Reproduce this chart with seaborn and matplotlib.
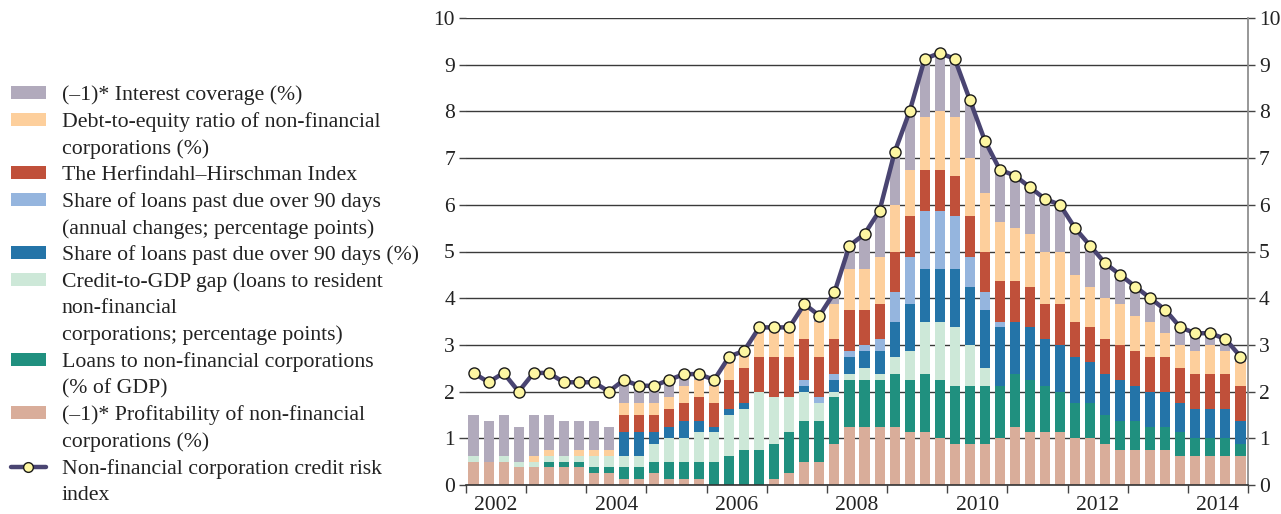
import matplotlib
matplotlib.use("Agg")
import matplotlib.pyplot as plt
from matplotlib.patches import Patch
from matplotlib.lines import Line2D
import numpy as np
import pandas as pd
import seaborn as sns

sns.set_theme(style="white")
plt.rcParams['font.family'] = ['Liberation Serif', 'DejaVu Serif']

# quarters 2002Q1 .. 2014Q4
quarters = [f"{y}Q{q}" for y in range(2002, 2015) for q in range(1, 5)]

# stacked components, bottom -> top
profitability = [.5, .5, .5, .375, .375, .375, .375, .375, .25, .25, .125, .125,
                 .25, .125, .125, .125, 0, 0, 0, 0, .125, .25, .5, .5,
                 .875, 1.25, 1.25, 1.25, 1.25, 1.125, 1.125, 1.0, .875, .875, .875, 1.0,
                 1.25, 1.125, 1.125, 1.125, 1.0, 1.0, .875, .75, .75, .75, .75, .625,
                 .625, .625, .625, .625]
loans_gdp = [0, 0, 0, 0, 0, .125, .125, .125, .125, .125, .25, .25,
             .25, .375, .375, .375, .5, .625, .75, .75, .75, .875, .875, .875,
             1.0, 1.0, 1.0, 1.0, 1.125, 1.125, 1.25, 1.25, 1.25, 1.25, 1.25, 1.125,
             1.125, 1.125, 1.0, .875, .75, .75, .625, .625, .625, .5, .5, .5,
             .375, .375, .375, .25]
credit_gap = [.125, 0, .125, .125, .125, .125, .125, .125, .25, .25, .25, .25,
              .375, .5, .5, .625, .625, .875, .875, 1.25, 1.0, .75, .625, .375,
              .125, .125, .25, .125, .375, .625, 1.125, 1.25, 1.25, .875, .375, 0,
              0, 0, 0, 0, 0, 0, 0, 0, 0, 0, 0, 0,
              0, 0, 0, 0]
npl_share = [0, 0, 0, 0, 0, 0, 0, 0, 0, 0, .5, .5,
             .25, .25, .375, .25, .125, .125, .125, 0, 0, 0, .125, 0,
             .25, .375, .375, .5, .75, 1.0, 1.125, 1.125, 1.25, 1.25, 1.25, 1.25,
             1.125, 1.125, 1.0, 1.0, 1.0, .875, .875, .875, .75, .75, .75, .625,
             .625, .625, .625, .5]
npl_change = [0, 0, 0, 0, 0, 0, 0, 0, 0, 0, 0, 0,
              0, 0, 0, 0, 0, 0, 0, 0, 0, 0, .125, .125,
              .125, .125, .125, .25, .625, 1.0, 1.25, 1.25, 1.125, .625, .375, .125,
              0, 0, 0, 0, 0, 0, 0, 0, 0, 0, 0, 0,
              0, 0, 0, 0]
hhi = [0, 0, 0, 0, 0, 0, 0, 0, 0, 0, .375, .375,
       .375, .375, .375, .5, .5, .625, .75, .75, .875, .875, .875, .875,
       .75, .875, .75, .75, .875, .875, .875, .875, .875, .875, .875, .875,
       .875, .875, .75, .875, .75, .75, .75, .75, .75, .75, .75, .75,
       .75, .75, .75, .75]
debt_equity = [0, 0, 0, 0, .125, .125, 0, .125, .125, .125, .25, .25,
               .25, .25, .375, .375, .375, .375, .375, .625, .625, .625, .75, .75,
               .75, .875, .875, 1.0, 1.0, 1.0, 1.125, 1.25, 1.25, 1.25, 1.25, 1.25,
               1.125, 1.125, 1.125, 1.125, 1.0, .875, .875, .875, .75, .75, .5, .5,
               .5, .625, .5, .5]
interest_cov = [.875, .875, .875, .75, .875, .75, .75, .625, .625, .5, .5, .375,
                .375, .375, .25, .125, .125, .125, 0, 0, 0, 0, 0, .125,
                .25, .5, .75, 1.0, 1.125, 1.25, 1.25, 1.25, 1.25, 1.25, 1.125, 1.125,
                1.125, 1.0, 1.125, 1.0, 1.0, .875, .75, .625, .625, .5, .5, .375,
                .375, .25, .25, .125]

# credit risk index (line)
risk_index = [2.4, 2.2, 2.4, 2.0, 2.4, 2.4, 2.2, 2.2, 2.2, 2.0, 2.25, 2.125,
              2.125, 2.25, 2.375, 2.375, 2.25, 2.75, 2.875, 3.375, 3.375, 3.375, 3.875, 3.625,
              4.125, 5.125, 5.375, 5.875, 7.125, 8.0, 9.125, 9.25, 9.125, 8.25, 7.375, 6.75,
              6.625, 6.375, 6.125, 6.0, 5.5, 5.125, 4.75, 4.5, 4.25, 4.0, 3.75, 3.375,
              3.25, 3.25, 3.125, 2.75]

year_labels = ['2002', '2004', '2006', '2008', '2010', '2012', '2014']

# legend order = visual order top -> bottom
labels = [
    "(\u20131)* Interest coverage (%)",
    "Debt-to-equity ratio of non-financial\ncorporations (%)",
    "The Herfindahl\u2013Hirschman Index",
    "Share of loans past due over 90 days\n(annual changes; percentage points)",
    "Share of loans past due over 90 days (%)",
    "Credit-to-GDP gap (loans to resident\nnon-financial\ncorporations; percentage points)",
    "Loans to non-financial corporations\n(% of GDP)",
    "(\u20131)* Profitability of non-financial\ncorporations (%)",
]
series = [interest_cov, debt_equity, hhi, npl_change, npl_share, credit_gap, loans_gdp, profitability]
colors = ['#b1aabc', '#fdcf9c', '#c0503a', '#95b5de', '#2474a8', '#cde8d8', '#20907f', '#d9ad9a']
line_label = "Non-financial corporation credit risk\nindex"
line_color = '#4a4572'

pos = np.arange(len(quarters))
df = pd.concat([pd.DataFrame({'pos': pos, 'value': s, 'component': lab})
                for lab, s in zip(labels, series)], ignore_index=True)

fig = plt.figure(figsize=(12.81, 5.14), dpi=100)
ax = fig.add_axes([466 / 1281, 29 / 514, 782 / 1281, 467 / 514])

sns.histplot(data=df, x='pos', weights='value', hue='component', hue_order=labels,
             palette=dict(zip(labels, colors)), multiple='stack', discrete=True,
             shrink=0.67, alpha=1, linewidth=0, legend=False, ax=ax)
sns.lineplot(x=pos, y=risk_index, ax=ax, color=line_color, linewidth=3.2,
             marker='o', markersize=8, markerfacecolor='#fdf6a2',
             markeredgecolor='#1a1a1a', markeredgewidth=1, zorder=5)

ax.set_xlim(-0.5, len(quarters) - 0.5)
ax.set_ylim(0, 10)
ax.set_xlabel('')
ax.set_ylabel('')
ax.set_yticks(range(0, 11))
ax.yaxis.grid(True, color='#3a3a3a', linewidth=1)
ax.set_axisbelow(True)
ax.tick_params(axis='y', left=True, right=True, labelleft=True, labelright=True,
               length=5, width=1, color='#444444', labelsize=15.5, pad=3,
               labelcolor='#222222')

ax.set_xticks(np.arange(-0.5, len(quarters), 4))
ax.set_xticklabels([])
label_pos = [quarters.index(y + 'Q2') + 0.5 for y in year_labels]
ax.set_xticks(label_pos, minor=True)
ax.set_xticklabels(year_labels, minor=True)
ax.tick_params(axis='x', which='major', bottom=True, length=6, width=1, color='#444444')
ax.tick_params(axis='x', which='minor', bottom=True, length=0, labelsize=15.5, pad=8,
               labelcolor='#222222')

ax.spines['left'].set_visible(False)
ax.spines['top'].set_visible(False)
ax.spines['right'].set_color('#8a8a8a')
ax.spines['bottom'].set_color('#333333')
ax.spines['bottom'].set_linewidth(1.2)

# legend: one row per text line, handle only on the first line of each entry
handles, texts = [], []
for lab, col in zip(labels, colors):
    for j, part in enumerate(lab.split('\n')):
        handles.append(Patch(facecolor=col, edgecolor='none') if j == 0
                       else Patch(facecolor='none', edgecolor='none'))
        texts.append(part)
for j, part in enumerate(line_label.split('\n')):
    handles.append(Line2D([], [], color=line_color, linewidth=3.2, marker='o', markersize=7,
                          markerfacecolor='#fdf6a2', markeredgecolor='#1a1a1a')
                   if j == 0 else Patch(facecolor='none', edgecolor='none'))
    texts.append(part)

fig.legend(handles, texts, loc='upper left', bbox_to_anchor=(0.0086, 0.834), frameon=False,
           fontsize=15.7, handlelength=1.6, handleheight=0.55, handletextpad=0.73,
           labelspacing=0.32, borderpad=0, borderaxespad=0, labelcolor='#222222')

fig.savefig('out.png', dpi=100)
